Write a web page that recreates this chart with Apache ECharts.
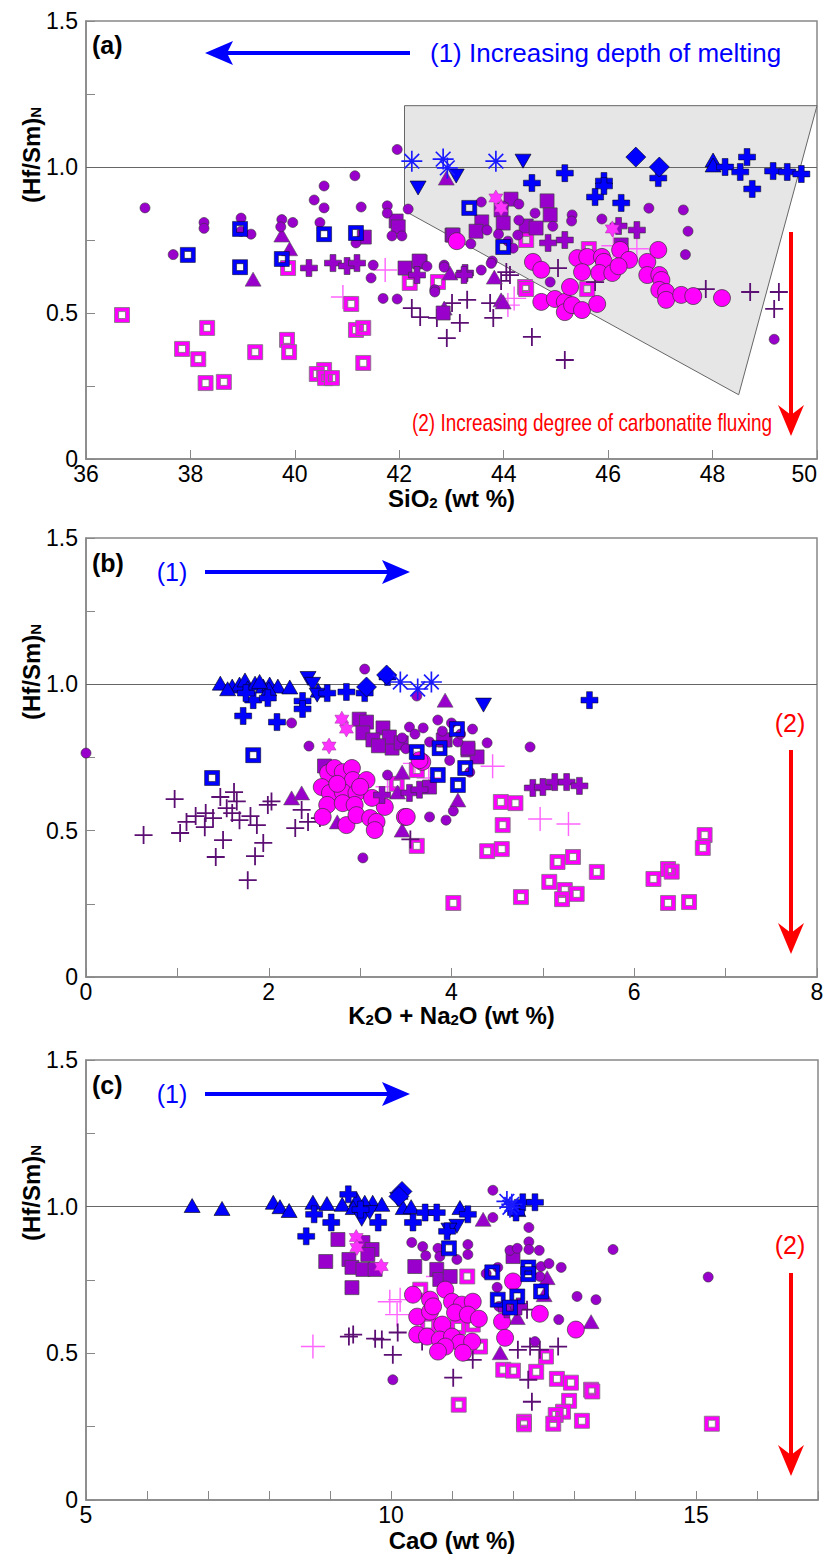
<!DOCTYPE html>
<html><head><meta charset="utf-8">
<script src="https://cdn.jsdelivr.net/npm/echarts@6/dist/echarts.min.js"></script>
<style>html,body{margin:0;padding:0;background:#fff}#c{width:828px;height:1566px}</style>
</head><body><div id="c"></div>
<script>
// ---------------- DATA ----------------
// Panel (a): SiO2 (wt %) vs (Hf/Sm)N
const A_smallCircle = [[37.13,0.86],[38.26,0.81],[38.26,0.79],[38.97,0.825],[38.97,0.78],[39.16,0.77],[39.75,0.82],[39.96,0.81],[39.73,0.795],[40.48,0.81],[40.37,0.887],[40.56,0.935],[40.56,0.86],[41.15,0.97],[41.27,0.863],[41.17,0.74],[41.77,0.867],[41.77,0.842],[41.86,0.764],[42.05,0.764],[41.96,1.06],[42.17,0.856],[37.67,0.70],[41.5,0.664],[41.46,0.62],[41.69,0.55],[41.96,0.548],[42.53,0.66],[42.86,0.664],[42.68,0.58],[43.57,0.647],[43.78,0.678],[44.89,0.606],[43.57,0.88],[44.29,0.873],[43.99,0.866],[44.6,0.842],[45.31,0.836],[45.3,0.815],[44.29,0.818],[43.68,0.784],[43.9,0.77],[44.08,0.746],[44.27,0.767],[44.94,0.797],[43.37,0.737],[44.18,0.722],[43.76,0.67],[45.88,0.822],[46.78,0.859],[47.44,0.853],[47.53,0.78],[47.48,0.70],[42.86,0.657],[42.68,0.572],[49.18,0.41]];
const A_bigCircle = [[43.1,0.746],[44.56,0.675],[44.72,0.648],[45.41,0.688],[45.6,0.692],[45.88,0.692],[45.92,0.675],[45.5,0.64],[45.83,0.637],[46.08,0.637],[46.23,0.716],[46.4,0.682],[46.75,0.675],[46.96,0.716],[46.75,0.63],[46.98,0.63],[47.02,0.613],[46.98,0.579],[47.11,0.572],[47.11,0.545],[47.4,0.562],[47.63,0.558],[48.18,0.551],[44.72,0.538],[44.98,0.548],[45.17,0.538],[45.17,0.503],[45.31,0.527],[45.5,0.51],[45.79,0.531],[45.27,0.589],[46.2,0.66]];
const A_purpleSquare = [[41.94,0.815],[41.98,0.795],[41.33,0.76],[43.01,0.767],[44.14,0.89],[43.95,0.853],[44.83,0.884],[44.89,0.836],[43.58,0.812],[43.47,0.78],[43.99,0.808],[44.43,0.798],[44.62,0.791],[43.03,0.767],[46.25,0.733],[42.11,0.654],[42.4,0.675],[42.38,0.678],[42.84,0.5]];
const A_blueOpenSq = [[37.95,0.699],[38.95,0.788],[38.95,0.657],[39.75,0.685],[40.56,0.77],[41.17,0.774],[43.34,0.86],[43.99,0.726]];
const A_magOpenSq = [[36.69,0.493],[38.32,0.449],[37.84,0.377],[38.15,0.342],[38.29,0.26],[38.64,0.264],[39.24,0.366],[39.85,0.408],[39.89,0.366],[40.56,0.305],[40.42,0.291],[40.58,0.277],[40.71,0.277],[41.31,0.329],[41.08,0.531],[41.17,0.442],[41.31,0.449],[39.87,0.654],[42.2,0.603],[42.74,0.606],[44.41,0.589],[44.43,0.75],[45.63,0.719],[45.6,0.582],[44.43,0.582]];
const A_purpleTri = [[39.75,0.767],[39.9,0.72],[42.9,0.962],[39.2,0.616],[42.97,0.637],[43.82,0.623],[43.95,0.545],[42.86,0.517],[43.99,0.538]];
const A_blueTri = [[48.01,1.024],[48.01,1.007]];
const A_blueInvTri = [[42.36,0.928],[44.37,1.02],[43.09,0.969]];
const A_blueDiamond = [[46.53,1.034],[46.98,1.0]];
const A_blueCross = [[44.54,0.945],[45.17,0.979],[45.92,0.952],[45.92,0.935],[45.75,0.897],[46.25,0.877],[46.96,0.962],[48.24,1.0],[48.53,0.983],[48.66,1.034],[48.76,0.925],[49.16,0.986],[49.43,0.983],[49.7,0.976]];
const A_purpleCross = [[40.27,0.654],[40.73,0.671],[41.0,0.661],[41.19,0.671],[42.34,0.63],[43.26,0.637],[44.85,0.74],[45.17,0.75],[43.24,0.63],[46.2,0.798],[46.55,0.784]];
const A_thinCross = [[42.24,0.517],[42.4,0.486],[42.72,0.483],[43.01,0.534],[43.3,0.545],[43.16,0.466],[42.91,0.414],[43.74,0.534],[43.8,0.483],[44.12,0.63],[44.54,0.418],[45.17,0.339],[47.87,0.582],[48.72,0.572],[49.27,0.572],[49.18,0.514],[45.75,0.606],[45.04,0.654],[43.95,0.61],[44.05,0.64]];
const A_thinMagCross = [[41.73,0.647],[40.92,0.555],[44.08,0.527],[46.1,0.73],[46.55,0.72],[44.2,0.55]];
const A_asterisk = [[42.24,1.02],[42.84,1.027],[42.92,0.997],[43.85,1.02]];
const A_star = [[43.85,0.894],[43.95,0.86],[46.08,0.788]];

// Panel (b): K2O + Na2O (wt %) vs (Hf/Sm)N
const B_smallCircle = [[0.0,0.765],[3.05,1.052],[3.62,0.96],[2.25,0.868],[2.44,0.789],[3.85,0.878],[4.23,0.847],[4.39,0.8],[4.86,0.786],[3.76,0.547],[3.94,0.536],[4.02,0.567],[3.03,0.407],[3.54,0.854],[3.69,0.851],[4.0,0.868],[3.76,0.803],[4.07,0.803],[3.46,0.817],[3.3,0.69],[3.6,0.83],[3.9,0.84],[4.1,0.83],[3.5,0.78],[3.98,0.74],[4.2,0.7]];
const B_bigCircle = [[2.65,0.697],[2.72,0.714],[2.81,0.7],[2.91,0.714],[2.92,0.673],[3.07,0.673],[2.58,0.649],[2.67,0.629],[2.81,0.632],[2.96,0.629],[2.64,0.588],[2.81,0.594],[2.94,0.588],[2.59,0.547],[2.85,0.519],[2.96,0.553],[3.11,0.543],[3.18,0.53],[3.16,0.502],[3.27,0.581],[3.49,0.547],[3.68,0.735],[3.13,0.612],[3.51,0.547],[3.65,0.741],[2.75,0.66],[3.0,0.65]];
const B_purpleSquare = [[2.99,0.881],[3.07,0.871],[3.03,0.834],[3.25,0.851],[3.14,0.81],[3.35,0.782],[3.32,0.82],[2.61,0.721],[3.93,0.81],[4.18,0.776],[4.28,0.752],[3.76,0.649],[3.91,0.81],[4.18,0.782],[3.2,0.79],[3.45,0.8]];
const B_blueOpenSq = [[1.83,0.758],[1.38,0.68],[3.62,0.769],[3.87,0.782],[4.15,0.714],[3.85,0.69],[4.07,0.656],[4.06,0.847]];
const B_magOpenSq = [[4.54,0.598],[4.7,0.594],[4.56,0.519],[4.39,0.43],[4.55,0.437],[3.62,0.448],[4.02,0.253],[4.76,0.273],[5.16,0.393],[5.33,0.41],[5.59,0.359],[5.07,0.325],[5.24,0.297],[5.37,0.284],[5.21,0.266],[6.21,0.335],[6.37,0.369],[6.41,0.36],[6.37,0.253],[6.6,0.256],[6.77,0.485],[6.75,0.441],[3.62,0.707],[3.4,0.66]];
const B_purpleTri = [[3.93,0.946],[2.25,0.612],[2.36,0.629],[2.75,0.53],[3.46,0.502],[3.46,0.7],[4.07,0.605],[3.41,0.632]];
const B_blueTri = [[1.47,1.004],[1.60,0.994],[1.68,1.001],[1.74,1.015],[1.77,0.988],[1.85,1.004],[1.94,0.994],[2.01,1.001],[2.1,0.994],[2.23,0.991],[2.54,0.98],[1.55,0.985],[2.0,0.985],[1.9,1.01]];
const B_blueInvTri = [[2.43,1.02],[2.48,1.0],[2.53,0.963],[4.35,0.929]];
const B_blueDiamond = [[3.07,0.991],[3.29,1.032]];
const B_blueCross = [[1.83,0.946],[1.99,0.953],[1.72,0.892],[2.09,0.871],[2.37,0.943],[2.37,0.916],[2.64,0.97],[2.85,0.974],[3.05,0.97],[3.3,1.025],[5.51,0.946],[1.75,0.97]];
const B_purpleCross = [[4.89,0.646],[5.0,0.649],[5.13,0.666],[5.26,0.666],[5.4,0.653],[3.54,0.629],[3.24,0.622],[3.65,0.64]];
const B_thinCross = [[0.97,0.608],[0.63,0.485],[1.03,0.492],[1.1,0.53],[1.31,0.56],[1.3,0.512],[1.39,0.543],[1.5,0.468],[1.42,0.41],[1.54,0.577],[1.62,0.632],[1.6,0.56],[1.68,0.536],[1.77,0.331],[1.85,0.413],[1.94,0.458],[1.87,0.519],[1.99,0.588],[2.03,0.6],[2.29,0.509],[2.43,0.53],[2.56,0.543],[2.36,0.571],[1.47,0.615],[1.2,0.55],[1.65,0.6],[1.8,0.55],[3.55,0.47]];
const B_thinMagCross = [[4.97,0.54],[5.28,0.523],[4.45,0.72],[3.6,0.73],[3.75,0.68],[3.3,0.65]];
const B_asterisk = [[3.44,1.008],[3.63,0.984],[3.78,1.008]];
const B_star = [[2.8,0.881],[2.85,0.847],[2.66,0.789]];

// Panel (c): CaO (wt %) vs (Hf/Sm)N
const C_smallCircle = [[11.67,1.056],[11.67,0.963],[12.26,0.929],[12.26,0.88],[12.26,0.854],[11.95,0.851],[12.07,0.858],[12.43,0.851],[12.46,0.796],[12.59,0.806],[12.79,0.793],[13.05,0.694],[13.36,0.683],[12.75,0.615],[13.64,0.854],[10.34,0.878],[10.52,0.864],[10.77,0.858],[10.8,0.83],[10.57,0.833],[11.08,0.82],[11.26,0.837],[11.26,0.871],[11.56,0.772],[11.75,0.793],[11.74,0.725],[11.77,0.66],[12.44,0.762],[10.03,0.41],[12.36,0.54],[15.2,0.76]];
const C_bigCircle = [[12.0,0.745],[12.44,0.635],[13.03,0.581],[10.36,0.7],[10.64,0.683],[10.89,0.717],[11.0,0.676],[11.16,0.666],[11.34,0.676],[10.43,0.625],[10.64,0.642],[10.84,0.598],[11.05,0.639],[11.26,0.632],[11.44,0.618],[11.82,0.608],[10.43,0.564],[10.59,0.557],[10.8,0.547],[11.0,0.557],[11.13,0.536],[11.33,0.54],[10.89,0.523],[10.77,0.506],[11.18,0.502],[11.87,0.553],[10.69,0.66]];
const C_purpleSquare = [[9.13,0.888],[8.93,0.813],[9.54,0.878],[9.69,0.854],[9.62,0.837],[9.31,0.82],[9.36,0.793],[9.54,0.786],[9.74,0.786],[9.36,0.724],[10.39,0.796],[10.75,0.786],[12.0,0.83],[10.8,0.752],[10.97,0.762]];
const C_blueOpenSq = [[10.95,0.858],[11.66,0.776],[11.75,0.683],[12.07,0.694],[11.95,0.656],[12.25,0.793],[12.25,0.77],[12.46,0.711]];
const C_magOpenSq = [[11.84,0.444],[12.0,0.441],[12.38,0.437],[12.54,0.489],[12.72,0.413],[12.95,0.4],[13.28,0.376],[13.3,0.37],[12.92,0.338],[12.82,0.301],[12.7,0.29],[12.66,0.26],[13.13,0.27],[12.18,0.267],[12.18,0.258],[11.11,0.325],[11.46,0.523],[11.1,0.59],[11.34,0.598],[10.61,0.598],[10.48,0.717],[11.25,0.762],[15.26,0.26]];
const C_purpleTri = [[11.51,0.957],[12.56,0.758],[12.51,0.7],[13.28,0.608],[11.79,0.502],[12.07,0.622]];
const C_blueTri = [[6.74,1.004],[7.23,0.994],[8.07,1.015],[8.18,1.0],[8.33,0.987],[8.72,1.015],[8.95,1.011],[9.2,1.008],[9.44,1.025],[9.38,0.997],[9.7,1.015],[9.57,1.015],[9.85,1.008],[10.15,1.049],[10.2,0.997],[10.33,1.0],[11.13,0.997],[12.08,0.99]];
const C_blueInvTri = [[10.11,1.025],[9.52,0.957],[11.08,0.933],[9.65,0.98],[10.95,0.92]];
const C_blueDiamond = [[10.18,1.052],[10.13,1.035]];
const C_blueCross = [[8.74,0.974],[9.02,0.946],[8.61,0.899],[9.3,1.042],[9.79,0.946],[10.36,0.946],[10.56,0.98],[10.75,0.98],[11.26,0.974],[12.16,1.015],[12.36,1.015],[10.92,0.916],[12.05,0.98],[9.5,0.99]];
const C_purpleCross = [[11.9,0.65],[12.1,0.66]];
const C_thinCross = [[9.31,0.557],[9.74,0.55],[9.38,0.564],[9.85,0.547],[10.03,0.495],[10.11,0.571],[10.51,0.54],[11.02,0.417],[11.34,0.478],[12.31,0.335],[12.25,0.41],[12.08,0.512],[12.28,0.523],[12.44,0.512],[12.74,0.523],[12.23,0.649],[12.1,0.65]];
const C_thinMagCross = [[8.72,0.523],[10.15,0.683],[10.1,0.632],[9.98,0.676],[10.77,0.762]];
const C_asterisk = [[11.9,1.018],[11.98,1.008],[11.95,0.998]];
const C_star = [[9.43,0.895],[9.44,0.861],[9.84,0.796]];

// Pyroxenite-derived melts field (panel a), SiO2 / (Hf/Sm)N
const pyroxPoly = [[42.1,1.21],[50,1.21],[48.5,0.22],[42.1,0.85]];
const refLevel = 1.0;

// Axis ranges and tick labels
const xRanges = [[36,50,2],[0,8,1],[5,17,1]];
const xLabelStep = [2,2,5];
const yRange = [0,1.5,0.25];
const yLabels = ['0','0.5','1.0','1.5'];

// ---------------- STYLE ----------------
function narrowAvailable(){
  const c=document.createElement('canvas').getContext('2d');
  c.font='40px monospace'; const w0=c.measureText('mmmmiiii0123').width;
  c.font='40px "Liberation Sans Narrow", monospace'; const w1=c.measureText('mmmmiiii0123').width;
  return Math.abs(w0-w1)>1;
}
const HAS_NARROW = narrowAvailable();
const TICK_FONT = HAS_NARROW ? '"Liberation Sans Narrow", "Liberation Sans", Arial, sans-serif' : '"Liberation Sans", Arial, sans-serif';
const TICK_SIZE = HAS_NARROW ? 26 : 23;
const SANS = '"Liberation Sans", Arial, sans-serif';

const OPEN_SQ = 'path://M0,0H10V10H0Z M2.7,2.7V7.3H7.3V2.7Z';
const THICK_PLUS = 'path://M3.3,0H6.7V3.3H10V6.7H6.7V10H3.3V6.7H0V3.3H3.3Z';
const THIN_PLUS = 'path://M4.5,0H5.5V4.5H10V5.5H5.5V10H4.5V5.5H0V4.5H4.5Z';
const THINNER_PLUS = 'path://M4.7,0H5.3V4.7H10V5.3H5.3V10H4.7V5.3H0V4.7H4.7Z';
const ASTER = 'path://M0,4.6H10V5.4H0Z M4.6,0H5.4V10H4.6Z M1.78,1.22L8.78,8.22L8.22,8.78L1.22,1.78Z M8.22,1.22L8.78,1.78L1.78,8.78L1.22,8.22Z';
const STAR6 = 'path://M5,0L6.445,2.497L9.33,2.5L7.89,5L9.33,7.5L6.445,7.503L5,10L3.555,7.503L0.67,7.5L2.11,5L0.67,2.5L3.555,2.497Z';

const TYPES = [
  {key:'thinMagCross', symbol:THINNER_PLUS, size:24, color:'#ff66ff'},
  {key:'magOpenSq', symbol:OPEN_SQ, size:15, color:'#ff00ff', border:'#777', bw:0.8},
  {key:'thinCross', symbol:THIN_PLUS, size:18, color:'#5c0f73'},
  {key:'purpleTri', symbol:'triangle', size:[16,14], color:'#9900cc', border:'#555', bw:0.6},
  {key:'purpleSquare', symbol:'rect', size:14, color:'#9900cc', border:'#444', bw:0.7},
  {key:'smallCircle', symbol:'circle', size:10, color:'#9900cc', border:'#333', bw:0.6},
  {key:'bigCircle', symbol:'circle', size:17, color:'#ff00ff', border:'#333', bw:0.7},
  {key:'purpleCross', symbol:THICK_PLUS, size:17, color:'#9900cc', border:'#333', bw:0.6},
  {key:'star', symbol:STAR6, size:[14,16], color:'#ff33ff', border:'#993399', bw:0.5},
  {key:'blueOpenSq', symbol:OPEN_SQ, size:15, color:'#0000ff', border:'#000', bw:0.5},
  {key:'blueTri', symbol:'triangle', size:[16,14], color:'#0000ff', border:'#000', bw:0.6},
  {key:'blueInvTri', symbol:'triangle', size:[16,14], color:'#0000ff', border:'#000', bw:0.6, rotate:180},
  {key:'blueCross', symbol:THICK_PLUS, size:17, color:'#0000ff', border:'#000', bw:0.5},
  {key:'blueDiamond', symbol:'diamond', size:20, color:'#0000ff', border:'#000', bw:0.6},
  {key:'asterisk', symbol:ASTER, size:21, color:'#1a1aff'}
];
const PANELS = [
  {thinMagCross:A_thinMagCross, magOpenSq:A_magOpenSq, thinCross:A_thinCross, purpleTri:A_purpleTri, purpleSquare:A_purpleSquare, smallCircle:A_smallCircle, bigCircle:A_bigCircle, purpleCross:A_purpleCross, star:A_star, blueOpenSq:A_blueOpenSq, blueTri:A_blueTri, blueInvTri:A_blueInvTri, blueCross:A_blueCross, blueDiamond:A_blueDiamond, asterisk:A_asterisk},
  {thinMagCross:B_thinMagCross, magOpenSq:B_magOpenSq, thinCross:B_thinCross, purpleTri:B_purpleTri, purpleSquare:B_purpleSquare, smallCircle:B_smallCircle, bigCircle:B_bigCircle, purpleCross:B_purpleCross, star:B_star, blueOpenSq:B_blueOpenSq, blueTri:B_blueTri, blueInvTri:B_blueInvTri, blueCross:B_blueCross, blueDiamond:B_blueDiamond, asterisk:B_asterisk},
  {thinMagCross:C_thinMagCross, magOpenSq:C_magOpenSq, thinCross:C_thinCross, purpleTri:C_purpleTri, purpleSquare:C_purpleSquare, smallCircle:C_smallCircle, bigCircle:C_bigCircle, purpleCross:C_purpleCross, star:C_star, blueOpenSq:C_blueOpenSq, blueTri:C_blueTri, blueInvTri:C_blueInvTri, blueCross:C_blueCross, blueDiamond:C_blueDiamond, asterisk:C_asterisk}
];

const GRIDS = [
  {left:86, top:21, width:731, height:438},
  {left:86, top:538, width:731, height:439},
  {left:86, top:1060, width:732, height:440}
];
const X_NAMES = ['{a|SiO}{s|2}{a| (wt %)}', '{a|K}{s|2}{a|O + Na}{s|2}{a|O (wt %)}', '{a|CaO (wt %)}'];
const X_NAMEGAP = [27,26,28];
const RICH_NAME = {
  a:{fontSize:24, fontWeight:'bold', fontFamily:SANS, color:'#000', lineHeight:24},
  s:{fontSize:15, fontWeight:'bold', fontFamily:SANS, color:'#000', lineHeight:6, verticalAlign:'bottom'}
};

const series = [];
// pyroxenite field
series.push({
  type:'custom', xAxisIndex:0, yAxisIndex:0, silent:true, z:1,
  data:[pyroxPoly[0]],
  renderItem:(params, api)=>({type:'polygon', shape:{points:pyroxPoly.map(p=>api.coord(p))}, style:{fill:'#e6e6e6', stroke:'#666', lineWidth:1}})
});
PANELS.forEach((p, pi)=>{
  TYPES.forEach((t, ti)=>{
    const s = {
      type:'scatter', xAxisIndex:pi, yAxisIndex:pi, data:p[t.key], symbol:t.symbol, symbolSize:t.size,
      symbolRotate:t.rotate||0, silent:true, z:2+ti,
      itemStyle:{color:t.color, opacity:1, borderColor:t.border||t.color, borderWidth:t.border?t.bw:0},
      emphasis:{disabled:true}
    };
    if (ti===0) s.markLine = {silent:true, symbol:'none', label:{show:false}, animation:false,
      lineStyle:{color:'#666', width:1, type:'solid'}, data:[{yAxis:refLevel}]};
    series.push(s);
  });
});

const xAxis = GRIDS.map((g, i)=>({
  gridIndex:i, type:'value', min:xRanges[i][0], max:xRanges[i][1], interval:xRanges[i][2],
  axisLine:{onZero:false, lineStyle:{color:'#888', width:1.5}},
  axisTick:{inside:true, length:9, lineStyle:{color:'#888', width:1}},
  splitLine:{show:false},
  axisLabel:{color:'#000', fontSize:TICK_SIZE, fontFamily:TICK_FONT, margin:3, showMinLabel:true, showMaxLabel:true,
    alignMinLabel:'center', alignMaxLabel: i===0 ? 'right' : 'center',
    formatter:v=> (Math.abs(v/xLabelStep[i]-Math.round(v/xLabelStep[i]))<1e-6) ? String(v) : ''},
  name:X_NAMES[i], nameLocation:'middle', nameGap:X_NAMEGAP[i], nameMoveOverlap:false, nameTextStyle:{rich:RICH_NAME}
}));
const yAxis = GRIDS.map((g, i)=>({
  gridIndex:i, type:'value', min:yRange[0], max:yRange[1], interval:yRange[2],
  axisLine:{onZero:false, lineStyle:{color:'#888', width:1.5}},
  axisTick:{inside:true, length:9, lineStyle:{color:'#888', width:1}},
  splitLine:{show:false},
  axisLabel:{color:'#000', fontSize:TICK_SIZE, fontFamily:TICK_FONT, margin:8, showMinLabel:true, showMaxLabel:true,
    formatter:v=>{ const k=Math.round(v/0.5); return Math.abs(v-k*0.5)<1e-6 ? yLabels[k] : ''; }}
}));

function arrowH(x0, x1, y, color){ // tip at x1
  const d = x1>x0 ? 1 : -1;
  return [
    {type:'line', silent:true, shape:{x1:x0, y1:y, x2:x1-d*22, y2:y}, style:{stroke:color, lineWidth:4}},
    {type:'polygon', silent:true, shape:{points:[[x1,y],[x1-d*28,y-12],[x1-d*22,y],[x1-d*28,y+12]]}, style:{fill:color}}
  ];
}
function arrowV(x, y0, y1, color){ // tip at y1 (down)
  return [
    {type:'line', silent:true, shape:{x1:x, y1:y0, x2:x, y2:y1-21}, style:{stroke:color, lineWidth:4}},
    {type:'polygon', silent:true, shape:{points:[[x,y1],[x-13,y1-31],[x,y1-21],[x+13,y1-31]]}, style:{fill:color}}
  ];
}
function txt(x, y, text, color, size, bold, align, sx){
  const e = {type:'text', x:x, y:y, silent:true, style:{text:text, fill:color, font:(bold?'bold ':'')+size+'px '+SANS, align:align||'left', verticalAlign:'middle'}};
  if (sx) e.scaleX = sx;
  return e;
}
function yName(y){
  return {type:'text', x:31, y:y, rotation:Math.PI/2, silent:true, style:{text:'{a|(Hf/Sm)}{s|N}', align:'center', verticalAlign:'middle', rich:RICH_NAME}};
}
const BLUE='#0000ff', RED='#ff0000';
const graphic = [].concat(
  arrowH(410, 205, 53, BLUE), arrowV(791, 232, 436, RED),
  arrowH(205, 410, 572, BLUE), arrowV(791, 750, 954, RED),
  arrowH(205, 410, 1094, BLUE), arrowV(791, 1273, 1476, RED),
  [
    txt(92, 45, '(a)', '#000', 25, true), txt(92, 563, '(b)', '#000', 25, true), txt(92, 1085, '(c)', '#000', 25, true),
    txt(430, 53, '(1) Increasing depth of melting', BLUE, 26),
    txt(412, 423, '(2) Increasing degree of carbonatite fluxing', RED, 24, false, 'left', 0.79),
    txt(501, 128, 'Pyroxenite-derived melts', '#000', 26),
    txt(172, 572, '(1)', BLUE, 25, false, 'center'), txt(172, 1094, '(1)', BLUE, 25, false, 'center'),
    txt(790, 723, '(2)', RED, 25, false, 'center'), txt(790, 1245, '(2)', RED, 25, false, 'center'),
    yName(155), yName(672), yName(1193)
  ]
);

const chart = echarts.init(document.getElementById('c'), null, {renderer:'svg', width:828, height:1566});
chart.setOption({
  animation:false,
  backgroundColor:'#fff',
  grid: GRIDS.map(g=>Object.assign({show:true, borderColor:'#888', borderWidth:1.5, backgroundColor:'transparent', containLabel:false, outerBoundsMode:'none'}, g)),
  xAxis, yAxis, series,
  graphic:{elements:graphic}
});
</script></body></html>
